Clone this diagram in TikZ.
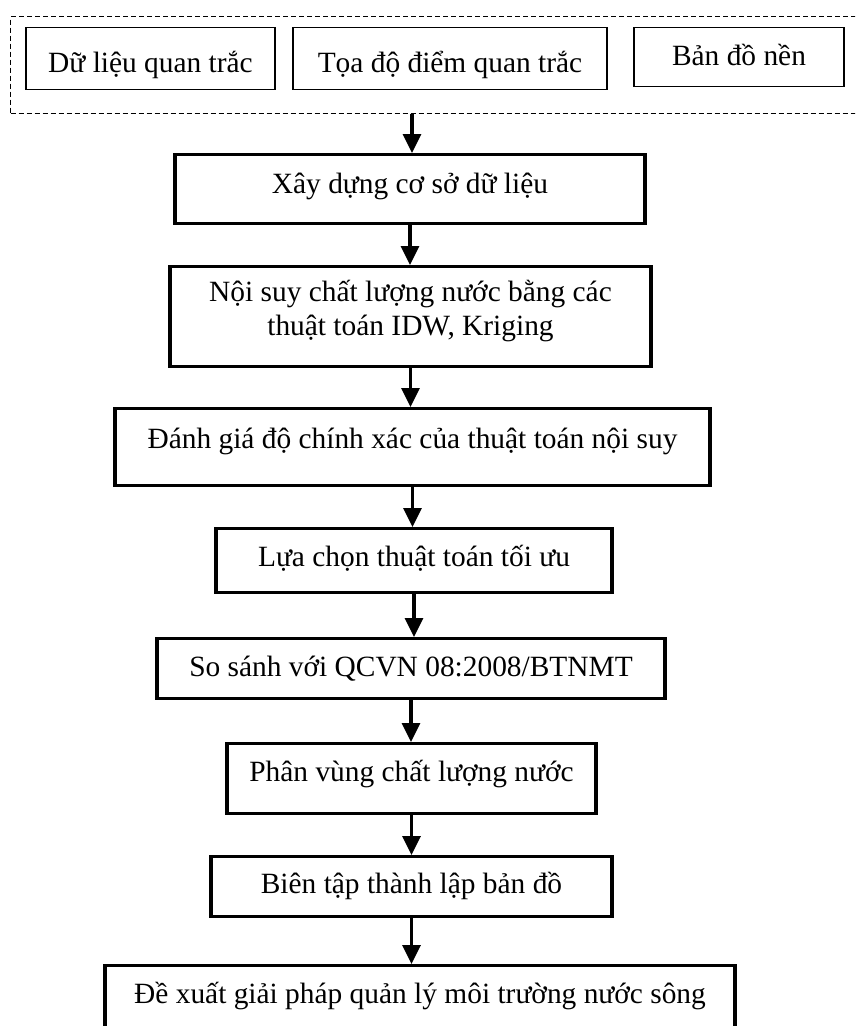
\documentclass[tikz,border=0pt]{standalone}
\usepackage{fontspec}
\setmainfont{Liberation Serif}
\usetikzlibrary{positioning, calc, arrows.meta}

\begin{document}
\begin{tikzpicture}[x=1pt, y=-1pt,
    stepbox/.style={rectangle, draw, line width=3.4pt, anchor=north, inner ysep=0pt, minimum height=0pt, align=center, font=\fontsize{29.4pt}{34pt}\selectfont},
    srcbox/.style={stepbox, line width=1.3pt},
    group/.style={rectangle, draw, dash pattern=on 5pt off 3pt, line width=1.3pt, anchor=north west, inner sep=0pt},
    arrow/.style={-{Triangle[length=19pt,width=18pt]}, line width=3.4pt}
]
    \useasboundingbox (0,0) rectangle (855,1026);
    \clip (0,0) rectangle (855,1026);

    \node[group, minimum width=870pt, minimum height=97pt] (src) at (10,16) {};
    \node[srcbox, minimum width=249pt, text height=45pt, text depth=17pt] (dl) at (150.5,27) {Dữ liệu quan trắc};
    \node[srcbox, minimum width=314pt, text height=45pt, text depth=17pt] (td) at (450,27) {Tọa độ điểm quan trắc};
    \node[srcbox, minimum width=210pt, text height=38pt, text depth=21pt] (bd) at (739,27) {Bản đồ nền};

    \node[stepbox, minimum width=470pt, text height=39pt, text depth=30pt] (xd) at (410,153) {Xây dựng cơ sở dữ liệu};
    \node[stepbox, minimum width=481pt, text height=69pt, text depth=31pt] (ns) at (410.5,265) {Nội suy chất lượng nước bằng các\\thuật toán IDW, Kriging};
    \node[stepbox, minimum width=595pt, text height=40pt, text depth=37pt] (dg) at (412.5,407) {Đánh giá độ chính xác của thuật toán nội suy};
    \node[stepbox, minimum width=396pt, text height=38pt, text depth=26pt] (lc) at (414,527) {Lựa chọn thuật toán tối ưu};
    \node[stepbox, minimum width=508pt, text height=38pt, text depth=22pt] (ss) at (411,637) {So sánh với QCVN 08:2008/BTNMT};
    \node[stepbox, minimum width=369pt, text height=38pt, text depth=32pt] (pv) at (411.5,742) {Phân vùng chất lượng nước};
    \node[stepbox, minimum width=401pt, text height=37pt, text depth=23pt] (bt) at (411.5,855) {Biên tập thành lập bản đồ};
    \node[stepbox, minimum width=630pt, text height=38pt, text depth=60pt] (dx) at (420,964) {Đề xuất giải pháp quản lý môi trường nước sông};

    \coordinate (ax) at (412,0);
    \draw[arrow] (src.south -| ax) -- (ax |- xd.north);
    \draw[arrow] (xd.south) -- (xd.south |- ns.north);
    \draw[arrow] (ns.south) -- (ns.south |- dg.north);
    \draw[arrow] (dg.south) -- (dg.south |- lc.north);
    \draw[arrow] (lc.south) -- (lc.south |- ss.north);
    \draw[arrow] (ss.south) -- (ss.south |- pv.north);
    \draw[arrow] (pv.south) -- (pv.south |- bt.north);
    \draw[arrow] (bt.south) -- (bt.south |- dx.north);
\end{tikzpicture}
\end{document}
